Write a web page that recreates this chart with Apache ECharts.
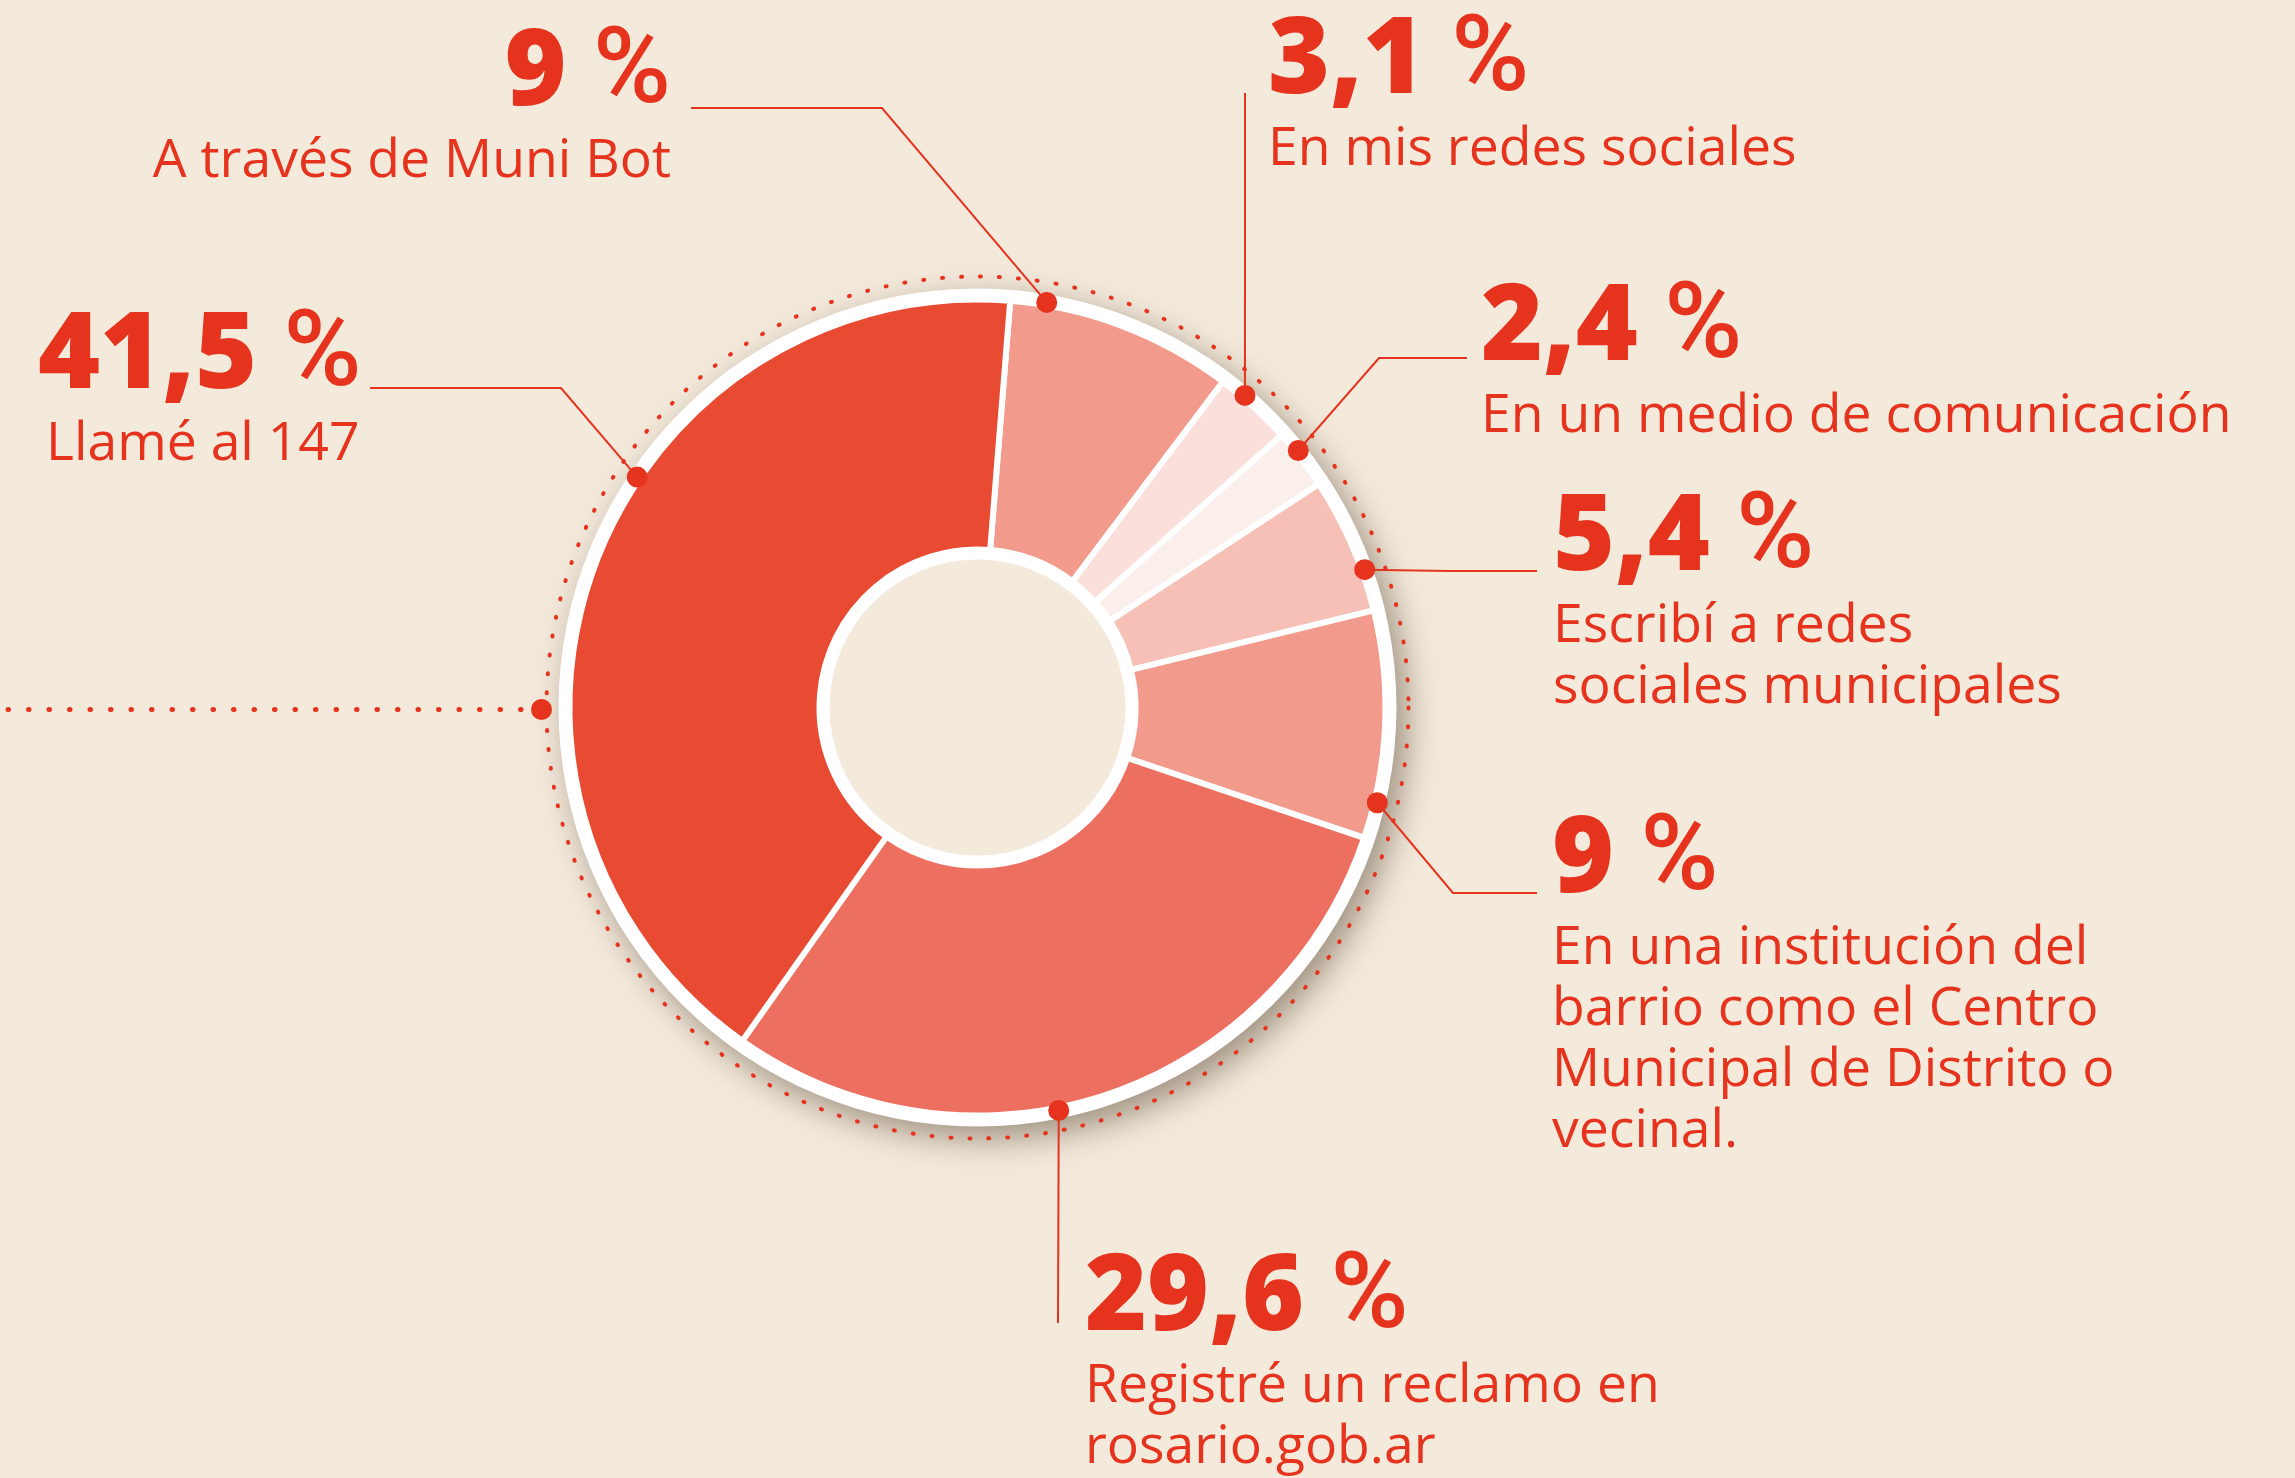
<!DOCTYPE html>
<html>
<head>
<meta charset="utf-8">
<style>
  html, body { margin: 0; padding: 0; background: #F4EADC; }
  #chart { width: 2295px; height: 1478px; }
</style>
<script src="https://cdn.jsdelivr.net/npm/echarts@6.0.0/dist/echarts.min.js"></script>
</head>
<body>
<div id="chart"></div>
<script>
// data, clockwise from the top
const categories = [
  'A través de Muni Bot',
  'En mis redes sociales',
  'En un medio de comunicación',
  'Escribí a redes\nsociales municipales',
  'En una institución del\nbarrio como el Centro\nMunicipal de Distrito o\nvecinal.',
  'Registré un reclamo en\nrosario.gob.ar',
  'Llamé al 147'
];
const values = [9, 3.1, 2.4, 5.4, 9, 29.6, 41.5];
const percentLabels = ['9', '3,1', '2,4', '5,4', '9', '29,6', '41,5'];
const sliceColors = ['#F29A8B', '#FADFDA', '#FBEFEC', '#F6C0B7', '#F29A8B', '#ED6F5F', '#E84A32'];

const RED = '#E5331E';
const BG = '#F4EADC';
const CX = 977.5, CY = 707.5;

// leader start on the ring, degrees clockwise from 12 o'clock
const anchorAngles = [9.7, 40.6, 51.3, 70.4, 103.4, 168.6, 304.1];
const ANCHOR_R = 411;

// text block corner + leader bends (px)
const labelBoxes = [
  { x: 671, y: 19, align: 'right', bend: [[882, 108], [691, 108]] },
  { x: 1268, y: 7, align: 'left', bend: [[1245, 93], [1245, 93]] },
  { x: 1481, y: 274, align: 'left', bend: [[1379, 358], [1467, 358]] },
  { x: 1553, y: 484, align: 'left', bend: [[1450, 571], [1537, 571]] },
  { x: 1552, y: 806, align: 'left', bend: [[1453, 893], [1537, 893]] },
  { x: 1085, y: 1244, align: 'left', bend: [[1058, 1323], [1058, 1323]] },
  { x: 38, y: 302, align: 'left', indent: true, bend: [[561, 388], [370, 388]] }
];

function anchorPoint(i) {
  const a = anchorAngles[i] * Math.PI / 180;
  return [CX + ANCHOR_R * Math.sin(a), CY - ANCHOR_R * Math.cos(a)];
}

const chart = echarts.init(document.getElementById('chart'));

const graphics = [
  {
    type: 'circle', z: 10, silent: true,
    shape: { cx: CX, cy: CY, r: 431 },
    style: { fill: 'none', stroke: RED, lineWidth: 4, lineCap: 'round', lineDash: [1, 18] }
  },
  {
    type: 'line', z: 10, silent: true,
    shape: { x1: 8, y1: CY + 2, x2: 525, y2: CY + 2 },
    style: { stroke: RED, lineWidth: 5, lineCap: 'round', lineDash: [0.5, 20] }
  },
  {
    type: 'circle', z: 20, silent: true,
    shape: { cx: CX - 436, cy: CY + 2, r: 10.5 },
    style: { fill: RED }
  }
];
anchorAngles.forEach((_, i) => {
  const p = anchorPoint(i);
  graphics.push({
    type: 'circle', z: 20, silent: true,
    shape: { cx: p[0], cy: p[1], r: 10.5 },
    style: { fill: RED }
  });
});

const option = {
  backgroundColor: BG,
  animation: false,
  graphic: graphics,
  series: [
    {
      // white disc with the soft shadow
      type: 'pie', z: 1, silent: true,
      center: [CX, CY], radius: [0, 419],
      label: { show: false }, labelLine: { show: false },
      itemStyle: {
        color: '#ffffff',
        shadowBlur: 34, shadowOffsetX: 10, shadowOffsetY: 12,
        shadowColor: 'rgba(85, 70, 50, 0.55)'
      },
      data: [{ value: 1 }]
    },
    {
      type: 'pie', z: 2, silent: true,
      center: [CX, CY], radius: [0, 148],
      label: { show: false }, labelLine: { show: false },
      itemStyle: { color: BG },
      data: [{ value: 1 }]
    },
    {
      type: 'pie', z: 3, silent: true,
      center: [CX, CY], radius: [158, 408],
      startAngle: 85.4,
      clockwise: true,
      avoidLabelOverlap: false,
      minShowLabelAngle: 0,
      itemStyle: { borderColor: '#ffffff', borderWidth: 6 },
      label: {
        show: true,
        position: 'outside',
        formatter: (p) => {
          const i = p.dataIndex;
          const tag = labelBoxes[i].indent ? 'di' : 'd';
          const desc = categories[i].split('\n').map(l => '{' + tag + '|' + l + '}').join('\n');
          return '{p|' + percentLabels[i] + '}{s| %}\n' + desc;
        },
        rich: {
          p: { fontFamily: 'Open Sans', fontWeight: 800, fontSize: 106, lineHeight: 112, color: RED },
          s: { fontFamily: 'Roboto', fontWeight: 500, fontSize: 106, lineHeight: 112, color: RED },
          d: { fontFamily: 'Open Sans', fontWeight: 400, fontSize: 53.5, lineHeight: 61, color: RED },
          di: { fontFamily: 'Open Sans', fontWeight: 400, fontSize: 53.5, lineHeight: 61, color: RED, padding: [0, 0, 0, 8] }
        }
      },
      labelLine: {
        show: true, length: 10, length2: 10, smooth: false,
        lineStyle: { color: RED, width: 2 }
      },
      labelLayout: (params) => {
        const i = params.dataIndex;
        const b = labelBoxes[i];
        return {
          x: b.x, y: b.y, align: b.align, verticalAlign: 'top',
          labelLinePoints: [anchorPoint(i)].concat(b.bend)
        };
      },
      data: values.map((v, i) => ({
        value: v, name: categories[i],
        itemStyle: { color: sliceColors[i] }
      }))
    }
  ]
};

chart.setOption(option);
</script>
</body>
</html>
